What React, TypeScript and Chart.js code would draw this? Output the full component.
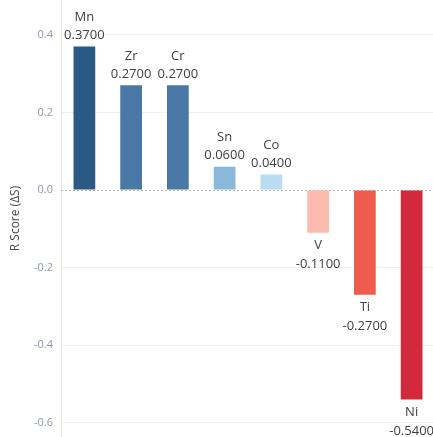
import React, { useEffect, useRef } from "react";
import { Chart, registerables } from "chart.js";

Chart.register(...registerables);

// Elements and their R score (ΔS)
const elements = ["Mn", "Zr", "Cr", "Sn", "Co", "V", "Ti", "Ni"];
const rScores = [0.37, 0.27, 0.27, 0.06, 0.04, -0.11, -0.27, -0.54];
const yTicks = [-0.6, -0.4, -0.2, 0.0, 0.2, 0.4];

// Diverging red-blue fill per element
const barColors = [
  "#2b5985",
  "#4a78a6",
  "#4a78a6",
  "#8ab8da",
  "#b9dcf0",
  "#fdbbb0",
  "#ef5b4d",
  "#d2293d",
];

const FONT = "'Open Sans', 'DejaVu Sans', sans-serif";

// Dotted baseline at zero
const zeroLine = {
  id: "zeroLine",
  beforeDatasetsDraw(chart: any) {
    const { ctx, chartArea, scales } = chart;
    const y = Math.round(scales.y.getPixelForValue(0)) + 0.5;
    ctx.save();
    ctx.strokeStyle = "#b8b8b8";
    ctx.lineWidth = 1;
    ctx.setLineDash([2, 2]);
    ctx.beginPath();
    ctx.moveTo(chartArea.left, y);
    ctx.lineTo(chartArea.right, y);
    ctx.stroke();
    ctx.restore();
  },
};

// Element name and value written beside each bar end
const barLabels = {
  id: "barLabels",
  afterDatasetsDraw(chart: any) {
    const { ctx } = chart;
    const meta = chart.getDatasetMeta(0);
    ctx.save();
    ctx.font = `13px ${FONT}`;
    ctx.fillStyle = "#404040";
    ctx.textAlign = "center";
    ctx.textBaseline = "middle";
    meta.data.forEach((bar: any, i: number) => {
      const v = rScores[i];
      const text = v.toFixed(4);
      if (v >= 0) {
        ctx.fillText(text, bar.x, bar.y - 11.5);
        ctx.fillText(elements[i], bar.x, bar.y - 29.5);
      } else {
        ctx.fillText(elements[i], bar.x, bar.y + 13);
        ctx.fillText(text, bar.x, bar.y + 32);
      }
    });
    ctx.restore();
  },
};

export default function App() {
  const canvasRef = useRef<HTMLCanvasElement | null>(null);

  useEffect(() => {
    if (!canvasRef.current) return;
    const chart = new Chart(canvasRef.current, {
      type: "bar",
      data: {
        labels: elements,
        datasets: [
          {
            data: rScores,
            backgroundColor: barColors,
            borderWidth: 0,
            categoryPercentage: 1,
            barPercentage: 0.465,
          },
        ],
      },
      options: {
        responsive: false,
        animation: false,
        devicePixelRatio: 1,
        layout: { padding: 0 },
        plugins: {
          legend: { display: false },
          tooltip: { enabled: false },
        },
        scales: {
          x: { display: false },
          y: {
            min: -0.637,
            max: 0.49,
            afterBuildTicks: (axis: any) => {
              axis.ticks = yTicks.map((v) => ({ value: v }));
            },
            afterFit: (axis: any) => {
              axis.width = 61;
              axis.paddingTop = 0;
              axis.paddingBottom = 0;
            },
            border: { display: true, color: "#e6e6e6" },
            grid: {
              drawTicks: false,
              color: (c: any) => (c.tick && c.tick.value === 0 ? "rgba(0,0,0,0)" : "#f0f0f0"),
            },
            ticks: {
              padding: 8,
              color: "#8d99a8",
              font: { family: FONT, size: 11 },
              callback: (v: any) => Number(v).toFixed(1),
            },
            title: {
              display: true,
              text: "R Score (ΔS)",
              color: "#4a4a4a",
              font: { family: FONT, size: 12 },
              padding: { top: 8, bottom: 0 },
            },
          },
        },
      },
      plugins: [zeroLine, barLabels],
    });
    return () => chart.destroy();
  }, []);

  return (
    <div
      style={{
        position: "fixed",
        left: 0,
        top: 0,
        width: 433,
        height: 437,
        overflow: "hidden",
        background: "#ffffff",
      }}
    >
      <canvas ref={canvasRef} width={435} height={437} style={{ display: "block" }} />
    </div>
  );
}
